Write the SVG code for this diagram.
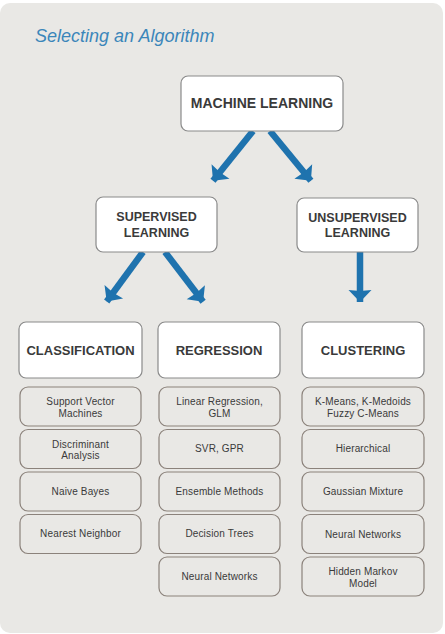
<svg xmlns="http://www.w3.org/2000/svg" width="445" height="634" viewBox="0 0 445 634">
<style>
.bg{fill:#e9e8e5}
.title{font-family:"Liberation Sans",Arial,sans-serif;font-style:italic;font-size:18px;fill:#3b86ba}
.main{fill:#ffffff;stroke:#8a8a8a;stroke-width:1.2}
.sub{fill:none;stroke:#8b827b;stroke-width:1.2}
.h{font-family:"Liberation Sans",Arial,sans-serif;font-weight:bold;font-size:13px;fill:#3a3a3a;text-anchor:middle}
.t{font-family:"Liberation Sans",Arial,sans-serif;font-size:10px;letter-spacing:0.15px;fill:#3a3a3a;text-anchor:middle}
.conn{stroke:#1f73ae;stroke-width:6.5;fill:none;marker-end:url(#ah)}
</style>
<defs>
<marker id="ah" markerUnits="userSpaceOnUse" viewBox="-13 -13 14 26" refX="0" refY="0" markerWidth="14" markerHeight="26" orient="auto">
<path d="M0,0 L-12,-11.5 L-11,0 L-12,11.5 Z" fill="#1f73ae"/>
</marker>
</defs>
<rect x="0" y="3" width="443" height="630" rx="10" class="bg"/>
<text x="35" y="42" class="title">Selecting an Algorithm</text>
<g id="connectors">
<line class="conn" x1="253" y1="131" x2="213" y2="180.8"/>
<line class="conn" x1="270" y1="131" x2="310.9" y2="180.8"/>
<line class="conn" x1="143" y1="252" x2="106.7" y2="301.5"/>
<line class="conn" x1="165" y1="252" x2="203.1" y2="301.7"/>
<line class="conn" x1="360" y1="252" x2="360" y2="302"/>
</g>
<g id="machine-learning">
<rect class="main" x="181" y="76" width="162" height="55" rx="7"/>
<text class="h" x="262" y="108" style="font-size:14px">MACHINE LEARNING</text>
</g>
<g id="supervised">
<rect class="main" x="96" y="197" width="121" height="55" rx="7"/>
<text class="h" x="156.5" y="221" style="font-size:12.5px">SUPERVISED</text>
<text class="h" x="156.5" y="237" style="font-size:12.5px">LEARNING</text>
</g>
<g id="unsupervised">
<rect class="main" x="297" y="198" width="121" height="54" rx="7"/>
<text class="h" x="357.5" y="222" style="font-size:12.5px">UNSUPERVISED</text>
<text class="h" x="357.5" y="237" style="font-size:12.5px">LEARNING</text>
</g>
<g id="classification">
<rect class="main" x="19" y="322" width="123" height="56" rx="7"/>
<text class="h" x="80.5" y="355">CLASSIFICATION</text>
</g>
<g id="regression">
<rect class="main" x="158" y="322" width="122" height="56" rx="7"/>
<text class="h" x="219" y="355">REGRESSION</text>
</g>
<g id="clustering">
<rect class="main" x="302" y="322" width="122" height="56" rx="7"/>
<text class="h" x="363" y="355">CLUSTERING</text>
</g>
<g id="svm"><rect class="sub" x="20" y="387" width="121" height="39" rx="8"/><text class="t" x="80.5" y="405">Support Vector</text><text class="t" x="80.5" y="416.5">Machines</text></g>
<g id="discriminant"><rect class="sub" x="20" y="429.5" width="121" height="39" rx="8"/><text class="t" x="80.5" y="447.5">Discriminant</text><text class="t" x="80.5" y="459">Analysis</text></g>
<g id="naive-bayes"><rect class="sub" x="20" y="472" width="121" height="39" rx="8"/><text class="t" x="80.5" y="494.5">Naive Bayes</text></g>
<g id="nearest-neighbor"><rect class="sub" x="20" y="514.5" width="121" height="39" rx="8"/><text class="t" x="80.5" y="537">Nearest Neighbor</text></g>
<g id="linear-regression"><rect class="sub" x="159" y="387" width="121" height="39" rx="8"/><text class="t" x="219.5" y="405">Linear Regression,</text><text class="t" x="219.5" y="416.5">GLM</text></g>
<g id="svr-gpr"><rect class="sub" x="159" y="429.5" width="121" height="39" rx="8"/><text class="t" x="219.5" y="452">SVR, GPR</text></g>
<g id="ensemble"><rect class="sub" x="159" y="472" width="121" height="39" rx="8"/><text class="t" x="219.5" y="494.5">Ensemble Methods</text></g>
<g id="decision-trees"><rect class="sub" x="159" y="514.5" width="121" height="39" rx="8"/><text class="t" x="219.5" y="537">Decision Trees</text></g>
<g id="neural-reg"><rect class="sub" x="159" y="557" width="121" height="39" rx="8"/><text class="t" x="219.5" y="579.5">Neural Networks</text></g>
<g id="kmeans"><rect class="sub" x="302" y="387" width="122" height="39" rx="8"/><text class="t" x="363" y="405">K-Means, K-Medoids</text><text class="t" x="363" y="416.5">Fuzzy C-Means</text></g>
<g id="hierarchical"><rect class="sub" x="302" y="429.5" width="122" height="39" rx="8"/><text class="t" x="363" y="452">Hierarchical</text></g>
<g id="gaussian"><rect class="sub" x="302" y="472" width="122" height="39" rx="8"/><text class="t" x="363" y="494.5">Gaussian Mixture</text></g>
<g id="neural-clu"><rect class="sub" x="302" y="514.5" width="122" height="39" rx="8"/><text class="t" x="363" y="537.5">Neural Networks</text></g>
<g id="hmm"><rect class="sub" x="302" y="557" width="122" height="39" rx="8"/><text class="t" x="363" y="575">Hidden Markov</text><text class="t" x="363" y="586.5">Model</text></g>
</svg>
